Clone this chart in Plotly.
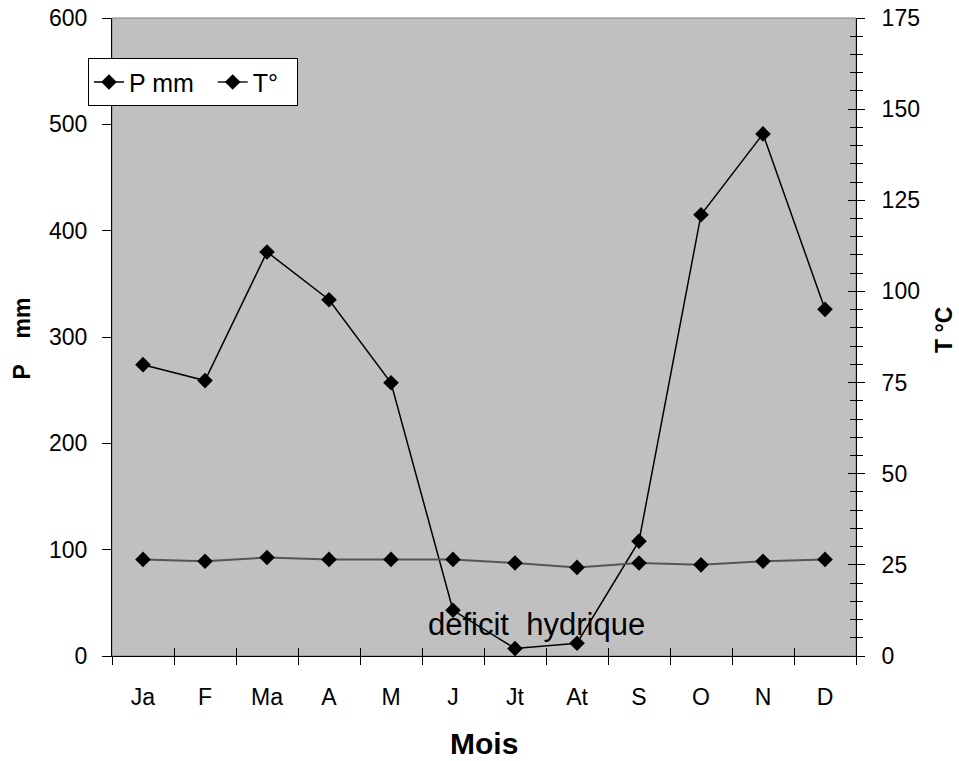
import plotly.graph_objects as go

months = ["Ja", "F", "Ma", "A", "M", "J", "Jt", "At", "S", "O", "N", "D"]
precip_mm = [274, 259, 380, 335, 257, 43, 7, 12, 108, 415, 491, 326]
temp_c = [26.5, 26.0, 27.0, 26.5, 26.5, 26.5, 25.5, 24.3, 25.5, 25.0, 26.0, 26.5]

FONT = "Arial, Liberation Sans, sans-serif"
NB = "\u00a0"

fig = go.Figure()
fig.add_trace(go.Scatter(
    x=months, y=precip_mm, name="P mm" + NB * 2, mode="lines+markers",
    line=dict(color="black", width=1.5),
    marker=dict(symbol="diamond", size=12, color="black"),
))
fig.add_trace(go.Scatter(
    x=months, y=temp_c, name="T°" + NB * 2, mode="lines+markers", yaxis="y2",
    line=dict(color="#555555", width=2),
    marker=dict(symbol="diamond", size=12, color="black"),
))
# invisible trace so the overlay axes (inner tick marks) get drawn
fig.add_trace(go.Scatter(
    x=months, y=temp_c, xaxis="x2", yaxis="y3", mode="lines",
    line=dict(width=0), opacity=0, showlegend=False, hoverinfo="skip",
))

# plot area border (grey top edge)
fig.add_shape(type="rect", xref="paper", yref="paper", x0=0, x1=1, y0=0, y1=1,
              line=dict(color="#808080", width=1), layer="below")

fig.add_annotation(x=0.5706, y=0.050, xref="paper", yref="paper",
                   xanchor="center", yanchor="middle",
                   text="deficit" + NB + " hydrique", showarrow=False,
                   font=dict(size=31, color="black", family=FONT))
fig.add_annotation(x=-0.121, y=0.4977, xref="paper", yref="paper",
                   xanchor="center", yanchor="middle", textangle=-90,
                   text="<b>P" + NB * 4 + "mm</b>", showarrow=False,
                   font=dict(size=23, color="black", family=FONT))
fig.add_annotation(x=1.1183, y=0.511, xref="paper", yref="paper",
                   xanchor="center", yanchor="middle", textangle=-90,
                   text="<b>T °C</b>", showarrow=False,
                   font=dict(size=23, color="black", family=FONT))
fig.add_annotation(x=0.5, y=-0.1379, xref="paper", yref="paper",
                   xanchor="center", yanchor="middle",
                   text="<b>Mois</b>", showarrow=False,
                   font=dict(size=30, color="black", family=FONT))

fig.update_layout(
    width=959, height=761,
    margin=dict(l=112, r=103, t=18, b=105),
    plot_bgcolor="#C0C0C0", paper_bgcolor="white",
    font=dict(family=FONT, size=23, color="black"),
    showlegend=True,
    legend=dict(orientation="h", x=-0.0323, y=0.937, xanchor="left", yanchor="top",
                bgcolor="white", bordercolor="black", borderwidth=1,
                font=dict(size=25), tracegroupgap=0),
    xaxis=dict(type="category", range=[-0.5, 11.5], showgrid=False, showline=True,
               linecolor="black", linewidth=1, ticks="outside", ticklen=8,
               tickson="boundaries", tickcolor="black", zeroline=False,
               ticklabelstandoff=20, automargin=False),
    xaxis2=dict(type="category", range=[-0.5, 11.5], overlaying="x", anchor="y",
                showgrid=False, showline=False, ticks="inside", ticklen=8,
                tickson="boundaries", tickcolor="black", showticklabels=False,
                zeroline=False, automargin=False),
    yaxis=dict(range=[0, 600], dtick=100, showgrid=False, showline=True,
               linecolor="black", linewidth=1, ticks="outside", ticklen=9,
               tickcolor="black", zeroline=False, ticklabelstandoff=10,
               automargin=False),
    yaxis2=dict(range=[0, 175], dtick=25, overlaying="y", side="right",
                showgrid=False, showline=True, linecolor="black", linewidth=1,
                ticks="outside", ticklen=8, tickcolor="black", zeroline=False,
                ticklabelstandoff=12, automargin=False,
                minor=dict(dtick=5, ticks="outside", ticklen=6, tickcolor="black")),
    yaxis3=dict(range=[0, 175], dtick=25, overlaying="y", side="right", anchor="x",
                showgrid=False, showline=False, ticks="inside", ticklen=8,
                tickcolor="black", zeroline=False, showticklabels=False,
                automargin=False,
                minor=dict(dtick=5, ticks="inside", ticklen=6, tickcolor="black")),
)

fig.write_html("out.html", config={"displayModeBar": False},
               post_script="document.body.style.margin='0px';")
